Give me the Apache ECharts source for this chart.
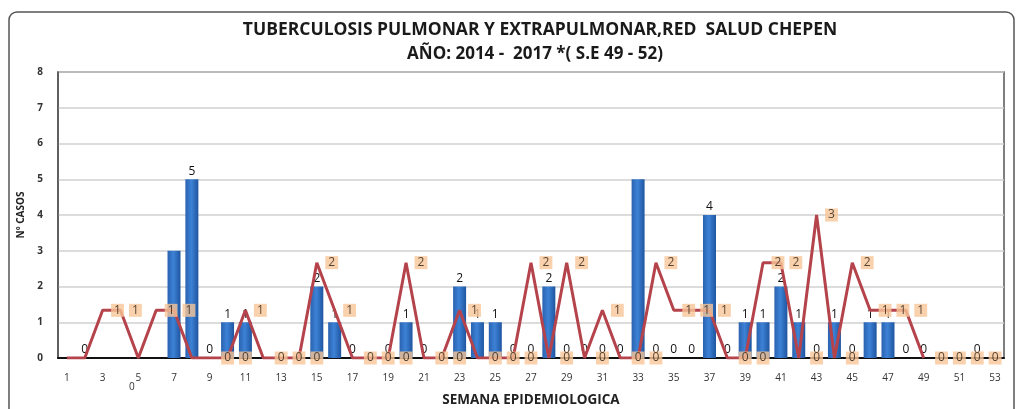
<!DOCTYPE html>
<html>
<head>
<meta charset="utf-8">
<script src="https://cdn.jsdelivr.net/npm/echarts@6/dist/echarts.min.js"></script>
<style>
  html, body { margin: 0; padding: 0; background: #fff; }
  #chart { width: 1018px; height: 409px; }
</style>
</head>
<body>
<div id="chart"></div>
<script>
// semanas epidemiologicas 1..53
const weeks = ['1','2','3','4','5','6','7','8','9','10','11','12','13','14','15','16','17','18','19','20',
  '21','22','23','24','25','26','27','28','29','30','31','32','33','34','35','36','37','38','39','40',
  '41','42','43','44','45','46','47','48','49','50','51','52','53'];

// barras azules (casos)
const barCases = [null,0,null,null,null,null,3,5,0,1, 1,null,null,null,2,1,0,null,0,1,
  0,null,2,1,1,0,0,2,0,0, 0,0,5,0,0,0,4,0,1,1, 2,1,0,1,0,1,1,0,0,null, null,0,null];

// linea roja (eje secundario)
const lineCases = [0,0,1,1,0,1,1,0,0,0, 1,0,0,0,2,1,0,0,0,2, 0,0,1,0,0,0,2,0,2,0,
  1,0,0,2,1,1,1,0,0,2, 2,0,3,0,2,1,1,1,0,null, null,null,null];

// ceros con etiqueta naranja sobre el eje
const zeroCases = [null,null,null,null,null,null,null,null,null,0, 0,null,0,0,0,null,null,0,0,0,
  null,0,0,null,0,0,0,null,0,null, 0,null,0,0,null,null,null,null,0,0, null,null,0,null,0,null,null,null,null,0, 0,0,0];

// barras cuya etiqueta no aparece
const unlabeledWeeks = ['7', '33'];

const yTicks = [0, 1, 2, 3, 4, 5, 6, 7, 8];

const FONT = 'Open Sans';
const chart = echarts.init(document.getElementById('chart'));

const orangeLabel = {
  show: true,
  color: '#2b1d10',
  fontSize: 12,
  fontFamily: FONT,
  backgroundColor: '#f7c597',
  padding: [1, 3, 0, 3]
};

chart.setOption({
  backgroundColor: '#fff',
  animation: false,
  title: [
    {
      text: 'TUBERCULOSIS PULMONAR Y EXTRAPULMONAR,RED  SALUD CHEPEN',
      left: 535, top: 16, textAlign: 'center',
      textStyle: { fontFamily: FONT, fontWeight: 'bold', fontSize: 17.5, color: '#1a1a1a' }
    },
    {
      text: 'AÑO: 2014 -  2017 *( S.E 49 - 52)',
      left: 530, top: 41, textAlign: 'center',
      textStyle: { fontFamily: FONT, fontWeight: 'bold', fontSize: 17, color: '#1a1a1a' }
    }
  ],
  graphic: [
    {
      type: 'rect', silent: true, z: -1,
      shape: { x: 9, y: 12, width: 1005, height: 420, r: 8 },
      style: { fill: 'none', stroke: '#555', lineWidth: 1.5 }
    },
    {
      type: 'text', left: 129, top: 382,
      style: { text: '0', fontSize: 10, fill: '#333', fontFamily: FONT }
    }
  ],
  grid: {
    left: 58, right: 14, top: 72, bottom: 51,
    outerBoundsMode: 'none',
    show: true, borderColor: '#555', borderWidth: 1.5
  },
  xAxis: {
    type: 'category',
    data: weeks,
    name: 'SEMANA EPIDEMIOLOGICA',
    nameLocation: 'middle',
    nameGap: 35,
    nameTextStyle: { fontFamily: FONT, fontWeight: 'bold', fontSize: 13.5, color: '#222' },
    axisLine: { lineStyle: { color: '#111', width: 2 } },
    axisTick: { show: false },
    axisLabel: { interval: 1, margin: 15, fontSize: 10, color: '#333', fontFamily: FONT }
  },
  yAxis: [
    {
      type: 'value',
      min: yTicks[0], max: yTicks[yTicks.length - 1], interval: 1,
      name: 'Nº CASOS',
      nameLocation: 'middle',
      nameRotate: 90,
      nameGap: 31,
      nameTextStyle: { fontFamily: FONT, fontWeight: 'bold', fontSize: 10, color: '#222' },
      axisLine: { show: true, lineStyle: { color: '#555', width: 1.5 } },
      axisLabel: { margin: 15, fontSize: 10, color: '#333', fontWeight: 'bold', fontFamily: FONT },
      splitLine: { lineStyle: { color: '#d0d0d0', width: 1.5 } }
    },
    { type: 'value', min: 0, max: 6, show: false }
  ],
  series: [
    {
      name: 'casos',
      type: 'bar',
      barWidth: 13,
      data: barCases.map((v, i) =>
        unlabeledWeeks.includes(weeks[i]) ? { value: v, label: { show: false } } : v),
      itemStyle: {
        color: new echarts.graphic.LinearGradient(0, 0, 1, 0, [
          { offset: 0, color: '#2a62b0' },
          { offset: 0.45, color: '#3d82d6' },
          { offset: 1, color: '#1f55a0' }
        ])
      },
      label: { show: true, position: 'top', distance: 2, color: '#111', fontSize: 12, fontFamily: FONT },
      z: 2
    },
    {
      name: 'linea',
      type: 'line',
      yAxisIndex: 1,
      data: lineCases,
      symbol: 'none',
      lineStyle: { color: '#b5434c', width: 3 },
      z: 3
    },
    {
      name: 'linea etiquetas',
      type: 'scatter',
      yAxisIndex: 1,
      data: lineCases.map(v => (v ? v : null)),
      symbolSize: 1,
      itemStyle: { color: 'rgba(0,0,0,0)' },
      label: Object.assign({}, orangeLabel, { position: 'right', distance: 8 }),
      z: 4
    },
    {
      name: 'ceros',
      type: 'scatter',
      data: zeroCases,
      symbolSize: 1,
      itemStyle: { color: 'rgba(0,0,0,0)' },
      label: Object.assign({}, orangeLabel, { position: 'inside' }),
      z: 4
    }
  ]
});
</script>
</body>
</html>
